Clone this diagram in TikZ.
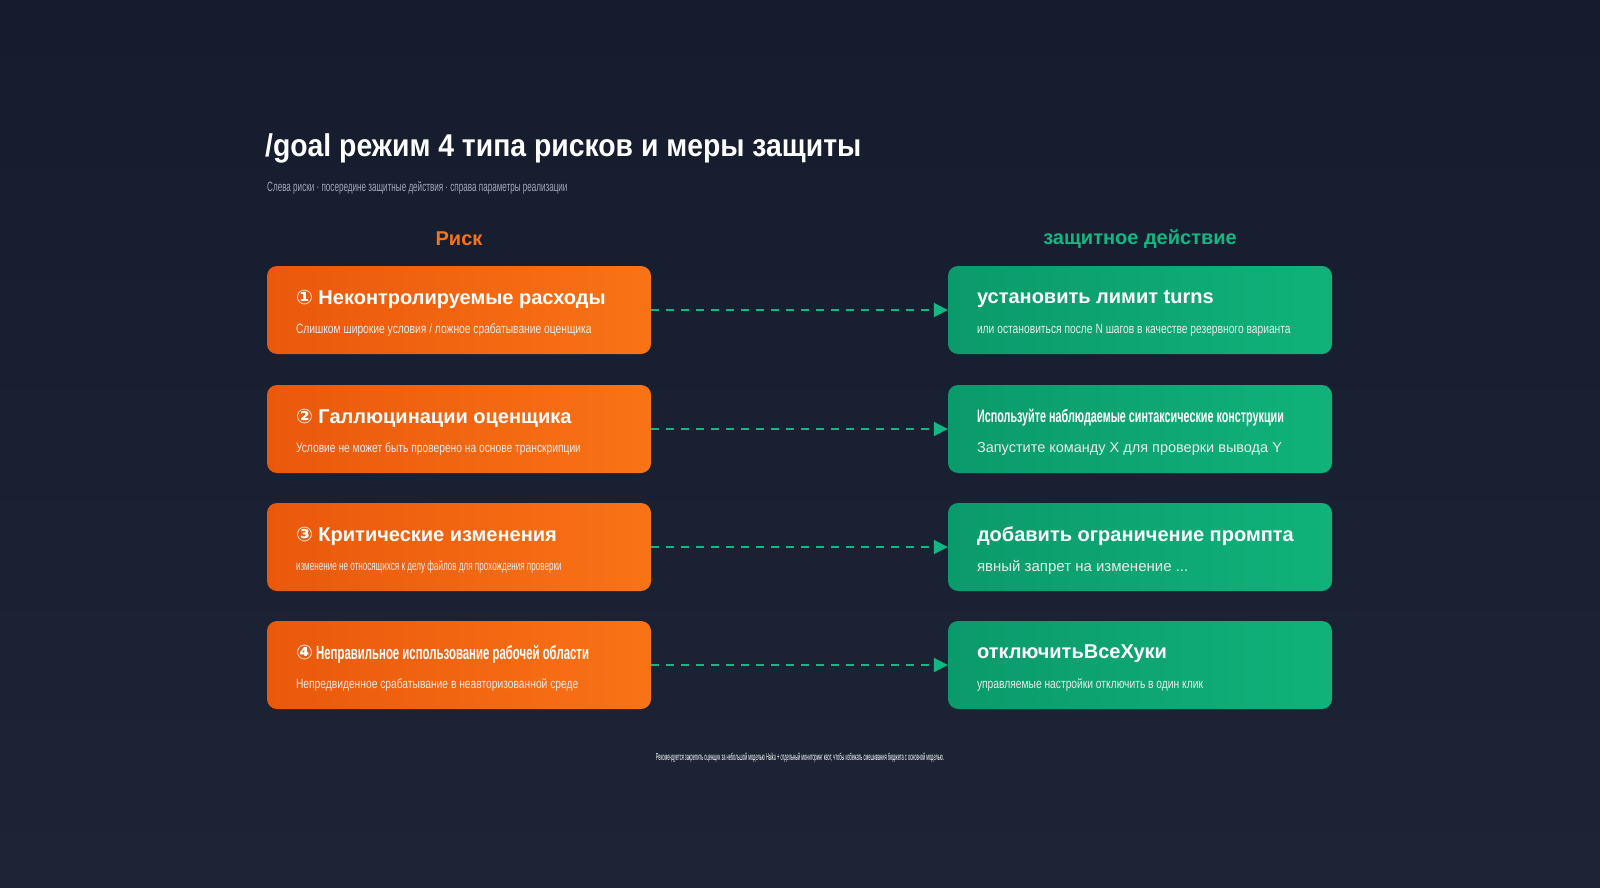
\documentclass[tikz,border=0pt]{standalone}
\usepackage{fontspec}
\setmainfont{Liberation Sans}
\newfontfamily\narrow[FakeStretch=0.76]{Liberation Sans}
\newfontfamily\cond[FakeStretch=0.6]{Liberation Sans}
\newfontfamily\titlef[FakeStretch=0.9]{Liberation Sans}
\newfontfamily\dv{DejaVu Sans}
\usetikzlibrary{arrows.meta,shadings}
\definecolor{bgA}{HTML}{151C2E}
\definecolor{bgB}{HTML}{1C2436}
\definecolor{orA}{HTML}{EA580C}
\definecolor{orB}{HTML}{F97316}
\definecolor{grA}{HTML}{0B9A6B}
\definecolor{grB}{HTML}{10B27A}
\definecolor{arr}{HTML}{10B981}
\definecolor{subt}{HTML}{A0A8B8}
\tikzset{
 riskbox/.style={rounded corners=10pt,left color=orA,right color=orB,minimum width=384pt,minimum height=88pt,inner sep=0pt},
 actbox/.style={rounded corners=10pt,left color=grA,right color=grB,minimum width=384pt,minimum height=88pt,inner sep=0pt},
 btitle/.style={anchor=west,text=white,font=\bfseries\fontsize{20}{24}\selectfont,inner sep=0pt},
 bsub/.style={anchor=west,text=white!92!black,font=\narrow\fontsize{13.5}{16}\selectfont,inner sep=0pt},
 link/.style={arr,dashed,dash pattern=on 8pt off 7pt,line width=2pt,-{Triangle[length=14pt,width=14pt]}}
}
\begin{document}
\begin{tikzpicture}[x=1pt,y=-1pt]
\shade[top color=bgA,bottom color=bgB] (0,0) rectangle (1600,888);
\useasboundingbox (0,0) rectangle (1600,888);
\node[anchor=base west,text=white,font=\titlef\bfseries\fontsize{31.5}{36}\selectfont,inner sep=0pt] (title) at (265,157) {/goal режим 4 типа рисков и меры защиты};
\node[anchor=base west,text=subt,font=\cond\fontsize{13.5}{16}\selectfont,inner sep=0pt] (sub) at (267,191) {Слева риски · посередине защитные действия · справа параметры реализации};
\node[text=orB,font=\bfseries\fontsize{20}{24}\selectfont] (h1) at (459,239) {Риск};
\node[text=arr,font=\bfseries\fontsize{20}{24}\selectfont] (h2) at (1140,239) {защитное действие};
\foreach \i/\y/\t/\s/\a/\b in {
 1/310/{{\dv①} Неконтролируемые расходы}/{Слишком широкие условия / ложное срабатывание оценщика}/{установить лимит turns}/{\narrow или остановиться после N шагов в качестве резервного варианта},
 2/429/{{\dv②} Галлюцинации оценщика}/{Условие не может быть проверено на основе транскрипции}/{\cond\fontsize{18}{22}\selectfont Используйте наблюдаемые синтаксические конструкции}/{\normalfont\fontsize{14.5}{16}\selectfont Запустите команду X для проверки вывода Y},
 3/547/{{\dv③} Критические изменения}/{\cond\fontsize{13.5}{16}\selectfont изменение не относящихся к делу файлов для прохождения проверки}/{добавить ограничение промпта}/{\normalfont\fontsize{15}{16}\selectfont явный запрет на изменение ...},
 4/665/{{\dv④}\cond\fontsize{19}{22}\selectfont{} Неправильное использование рабочей области}/{Непредвиденное срабатывание в неавторизованной среде}/{отключитьВсеХуки}/{управляемые настройки отключить в один клик}}{
 \node[riskbox] (r\i) at (459,\y) {};
 \node[actbox] (g\i) at (1140,\y) {};
 \node[btitle] (rt\i) at ([xshift=29pt,yshift=11pt]r\i.west) {\t};
 \node[bsub] (rs\i) at ([xshift=29pt,yshift=-20pt]r\i.west) {\s};
 \node[btitle] (gt\i) at ([xshift=29pt,yshift=11pt]g\i.west) {\a};
 \node[bsub] (gs\i) at ([xshift=29pt,yshift=-20pt]g\i.west) {\b};
 \draw[link] (r\i.east) -- (g\i.west);
}
\node[text=white,font=\narrow\fontsize{10}{12}\selectfont,inner sep=0pt,xscale=0.52] (foot) at (800,758) {Рекомендуется закрепить оценщик за небольшой моделью Haiku + отдельный мониторинг квот, чтобы избежать смешивания бюджета с основной моделью.};
\end{tikzpicture}
\end{document}
